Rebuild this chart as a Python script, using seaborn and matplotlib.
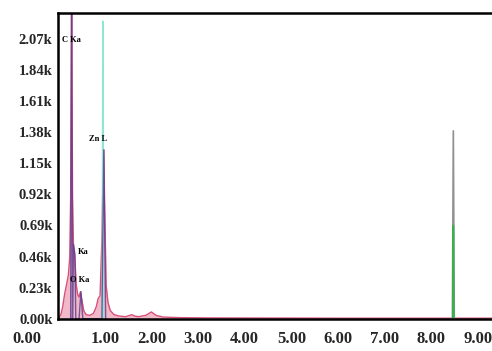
import matplotlib
matplotlib.use("Agg")
import matplotlib.pyplot as plt
import matplotlib.transforms as mtransforms
import seaborn as sns
import pandas as pd

# ---- data (energy in keV, counts) ----
pink_e = [0.00, 0.06, 0.10, 0.14, 0.18, 0.22, 0.25, 0.27, 0.29, 0.31, 0.33, 0.36, 0.39, 0.42, 0.45,
          0.48, 0.51, 0.55, 0.60, 0.68, 0.76, 0.82, 0.86, 0.90, 0.94, 0.96, 0.98, 1.00, 1.03, 1.07,
          1.12, 1.20, 1.30, 1.45, 1.58, 1.64, 1.72, 1.88, 2.00, 2.10, 2.25, 2.60, 3.20, 4.50, 6.00,
          8.00, 9.30]
pink_c = [0, 30, 90, 180, 250, 320, 450, 900, 2400, 900, 550, 450, 250, 180, 160,
          200, 140, 60, 30, 25, 40, 90, 150, 170, 600, 1000, 1250, 800, 250, 120,
          60, 30, 20, 15, 30, 20, 15, 25, 50, 25, 12, 8, 6, 5, 4,
          4, 4]

purple_e = [0.27, 0.29, 0.31, 0.31, 0.33, 0.36, 0.38, 0.45, 0.49, 0.53, 0.94, 0.98, 1.02]
purple_c = [0, 2400, 0, 0, 550, 480, 0, 0, 200, 0, 0, 1250, 0]

cyan_e = [0.95, 0.96, 0.97]
cyan_c = [0, 2200, 0]

gray_e = [8.45, 8.47, 8.49]
gray_c = [0, 1390, 0]

green_e = [8.46, 8.47, 8.48]
green_c = [0, 690, 0]

peak_labels = ["C Ka", "Ka", "O Ka", "Zn L"]
peak_label_e = [0.28, 0.54, 0.47, 0.86]
peak_label_c = [2060, 495, 288, 1330]

y_ticks = [0, 230, 460, 690, 920, 1150, 1380, 1610, 1840, 2070]
y_tick_labels = ["0.00k", "0.23k", "0.46k", "0.69k", "0.92k", "1.15k", "1.38k", "1.61k", "1.84k", "2.07k"]
x_ticks = [0, 1, 2, 3, 4, 5, 6, 7, 8, 9]
x_tick_labels = ["0.00", "1.00", "2.00", "3.00", "4.00", "5.00", "6.00", "7.00", "8.00", "9.00"]

sns.set_style("white")
plt.rcParams['font.family'] = ['Liberation Serif', 'DejaVu Serif']
plt.rcParams['font.weight'] = 'bold'

fig = plt.figure(figsize=(4.92, 3.51), dpi=100)
ax = fig.add_axes([0.118, 0.092, 0.885, 0.872])

pink = pd.DataFrame({"e": pink_e, "c": pink_c})
ax.fill_between(pink["e"], pink["c"], color="#ec9ab0", alpha=0.7, lw=0)
sns.lineplot(data=pink, x="e", y="c", ax=ax, color="#d8507a", lw=1.0, estimator=None, sort=False)

sns.lineplot(x=cyan_e, y=cyan_c, ax=ax, color="#8fe6d6", lw=1.2, estimator=None, sort=False)
sns.lineplot(x=purple_e, y=purple_c, ax=ax, color="#5a3a8c", lw=1.0, alpha=0.8, estimator=None, sort=False)
sns.lineplot(x=gray_e, y=gray_c, ax=ax, color="#909090", lw=1.2, estimator=None, sort=False)
sns.lineplot(x=green_e, y=green_c, ax=ax, color="#3cae4c", lw=1.2, estimator=None, sort=False)

for t, e, c in zip(peak_labels, peak_label_e, peak_label_c):
    ax.text(e, c, t, fontsize=6, fontweight="bold", ha="center", va="center", color="black")

ax.set_xlim(0, 9.33)
ax.set_ylim(0, 2265)
ax.set_xticks(x_ticks)
ax.set_xticklabels(x_tick_labels, fontsize=12, fontweight="bold")
ax.set_yticks(y_ticks)
ax.set_yticklabels(y_tick_labels, fontsize=10.5, fontweight="bold")
ax.tick_params(axis="x", length=0, pad=9)
ax.tick_params(axis="y", length=0, pad=4)
ax.set_xlabel("")
ax.set_ylabel("")

# shift the first x label left as in the reference
lab0 = ax.get_xticklabels()[0]
lab0.set_transform(lab0.get_transform() + mtransforms.ScaledTranslation(-0.31, 0, fig.dpi_scale_trans))

for s in ["left", "bottom", "top"]:
    ax.spines[s].set_color("black")
    ax.spines[s].set_linewidth(1.8)
ax.spines["right"].set_visible(False)

fig.savefig("out.png", dpi=100)
